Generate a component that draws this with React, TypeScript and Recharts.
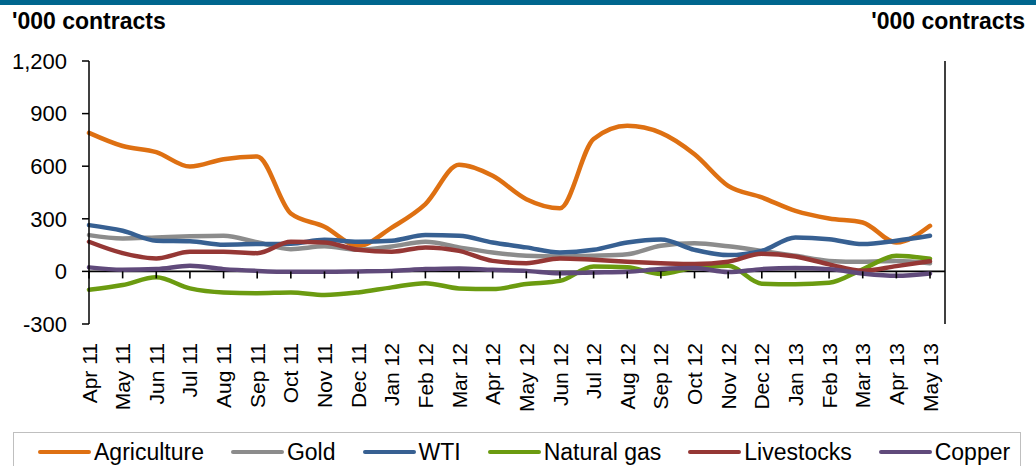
import React from "react";
import {
  LineChart,
  Line,
  XAxis,
  YAxis,
  ReferenceLine,
  Legend,
} from "recharts";

const months = [
  "Apr 11", "May 11", "Jun 11", "Jul 11", "Aug 11", "Sep 11", "Oct 11", "Nov 11", "Dec 11",
  "Jan 12", "Feb 12", "Mar 12", "Apr 12", "May 12", "Jun 12", "Jul 12", "Aug 12", "Sep 12",
  "Oct 12", "Nov 12", "Dec 12", "Jan 13", "Feb 13", "Mar 13", "Apr 13", "May 13",
];

const agriculture = [790, 715, 680, 598, 640, 655, 330, 255, 145, 250, 384, 608, 545, 412, 360, 755, 830, 790, 668, 488, 422, 345, 302, 279, 165, 260];
const gold = [207, 188, 194, 200, 203, 166, 127, 143, 123, 142, 169, 137, 108, 89, 85, 89, 98, 146, 160, 143, 117, 89, 60, 55, 60, 47];
const wti = [264, 232, 175, 172, 152, 156, 158, 180, 169, 175, 207, 203, 165, 137, 108, 123, 165, 182, 123, 93, 117, 194, 184, 156, 175, 203];
const naturalGas = [-105, -78, -34, -97, -120, -124, -120, -135, -120, -91, -67, -97, -101, -72, -54, 28, 23, -15, 22, 32, -70, -73, -65, 12, 89, 72];
const livestocks = [169, 104, 74, 112, 112, 104, 169, 165, 123, 112, 137, 117, 60, 47, 74, 66, 55, 47, 42, 55, 100, 85, 40, 3, 30, 58];
const copper = [23, 9, 13, 32, 13, 3, -2, -2, 0, 3, 13, 17, 9, 3, -10, -6, -2, 13, 19, -4, 13, 19, 13, -12, -25, -12];

const yTicks = [-300, 0, 300, 600, 900, 1200];
const yDomain = [-300, 1200];

const series = [
  { key: "agriculture", name: "Agriculture", color: "#DE7012", values: agriculture },
  { key: "gold", name: "Gold", color: "#8C8C8C", values: gold },
  { key: "wti", name: "WTI", color: "#376092", values: wti },
  { key: "naturalGas", name: "Natural gas", color: "#6B9B10", values: naturalGas },
  { key: "livestocks", name: "Livestocks", color: "#953735", values: livestocks },
  { key: "copper", name: "Copper", color: "#604A7B", values: copper },
];

const data = months.map((month, i) => {
  const row: Record<string, string | number> = { month };
  series.forEach((s) => (row[s.key] = s.values[i]));
  return row;
});

const FONT = '"Liberation Sans", Arial, sans-serif';

// chart layout
const W = 1036;
const H = 466;
const TOP = 61;
const X_AXIS_H = 108;
const LEGEND_H = 34;
const X_TICK_MARGIN = 19;
const PLOT_H = H - TOP - X_AXIS_H - LEGEND_H;

const fmt = (v: number) => v.toLocaleString("en-US");

// the month labels sit at the bottom, but the category axis itself crosses at zero,
// so each label also draws its little tick mark hanging from the zero line
function MonthTick(props: any) {
  const { x, y, payload } = props;
  const bottom = y - X_TICK_MARGIN;
  const zeroY = bottom - (PLOT_H * (0 - yDomain[0])) / (yDomain[1] - yDomain[0]);
  return (
    <g>
      <line x1={x} y1={zeroY} x2={x} y2={zeroY + 7} stroke="#000" strokeWidth={1.6} />
      <text
        x={x}
        y={y}
        transform={`rotate(-90 ${x} ${y})`}
        textAnchor="end"
        dy="0.36em"
        fontSize={21}
        fill="#000"
      >
        {payload.value}
      </text>
    </g>
  );
}

function LegendBox() {
  return (
    <div
      style={{
        height: LEGEND_H,
        boxSizing: "border-box",
        borderTop: "1px solid #bfbfbf",
        borderLeft: "1px solid #bfbfbf",
        borderRight: "1px solid #bfbfbf",
        display: "flex",
        alignItems: "center",
        paddingLeft: 24,
        paddingTop: 5,
        fontFamily: FONT,
        fontSize: 23,
        color: "#000",
        whiteSpace: "nowrap",
        overflow: "hidden",
      }}
    >
      {series.map((s) => (
        <span key={s.key} style={{ display: "flex", alignItems: "center", marginRight: 27, flexShrink: 0 }}>
          <span
            style={{
              display: "inline-block",
              width: 53,
              height: 4,
              borderRadius: 2,
              background: s.color,
              marginRight: 3,
            }}
          />
          {s.name}
        </span>
      ))}
    </div>
  );
}

export default function App() {
  return (
    <div
      style={{
        position: "absolute",
        left: 0,
        top: 0,
        width: W,
        height: H,
        background: "#fff",
        fontFamily: FONT,
        overflow: "hidden",
      }}
    >
      <div style={{ position: "absolute", left: 0, top: 0, width: W, height: 5, background: "#00668E" }} />
      <div style={{ position: "absolute", left: 12, top: 8, fontSize: 23, fontWeight: "bold" }}>'000 contracts</div>
      <div style={{ position: "absolute", right: 11, top: 8, fontSize: 23, fontWeight: "bold" }}>'000 contracts</div>
      <LineChart width={W} height={H} data={data} margin={{ top: TOP, right: 0, bottom: 0, left: 0 }}>
        <XAxis
          dataKey="month"
          height={X_AXIS_H}
          interval={0}
          padding={{ left: 0, right: 15 }}
          axisLine={false}
          tickLine={false}
          tickSize={0}
          tickMargin={X_TICK_MARGIN}
          tick={<MonthTick />}
        />
        <YAxis
          yAxisId="left"
          width={89}
          domain={yDomain}
          ticks={yTicks}
          interval={0}
          tickSize={7}
          tickMargin={15}
          axisLine={{ stroke: "#000", strokeWidth: 1.5 }}
          tickLine={{ stroke: "#000", strokeWidth: 1.5 }}
          tick={{ fontSize: 22, fill: "#000" }}
          tickFormatter={fmt}
        />
        <YAxis
          yAxisId="right"
          orientation="right"
          width={91}
          domain={yDomain}
          ticks={yTicks}
          interval={0}
          tickSize={7}
          tickMargin={13}
          axisLine={{ stroke: "#000", strokeWidth: 1.5 }}
          tickLine={{ stroke: "#000", strokeWidth: 1.5 }}
          tick={{ fontSize: 22, fill: "#000" }}
          tickFormatter={fmt}
        />
        <ReferenceLine yAxisId="left" y={0} stroke="#000" strokeWidth={1.6} />
        {series.map((s) => (
          <Line
            key={s.key}
            yAxisId="left"
            type="monotone"
            dataKey={s.key}
            name={s.name}
            stroke={s.color}
            strokeWidth={4.5}
            dot={false}
            strokeLinecap="round"
            isAnimationActive={false}
          />
        ))}
        <Legend verticalAlign="bottom" content={<LegendBox />} wrapperStyle={{ left: 13, width: 1008, bottom: 0 }} />
      </LineChart>
    </div>
  );
}
